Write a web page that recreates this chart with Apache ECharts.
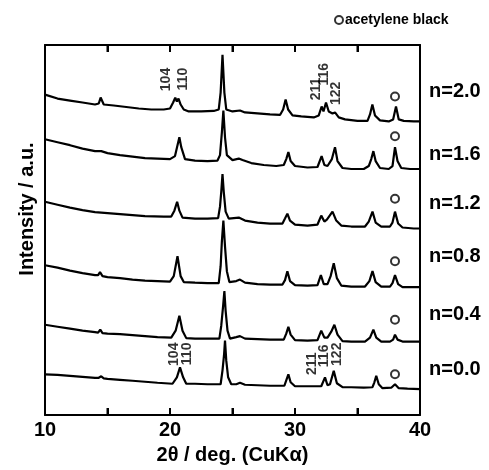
<!DOCTYPE html>
<html>
<head>
<meta charset="utf-8">
<script src="https://cdn.jsdelivr.net/npm/echarts@6/dist/echarts.min.js"></script>
<style>html,body{margin:0;padding:0;background:#fff;}#c{width:489px;height:470px;}</style>
</head>
<body>
<div id="c"></div>
<script>
// 2θ (deg) vs intensity (a.u., stacked offsets)
const sampleNames = ['n=2.0', 'n=1.6', 'n=1.2', 'n=0.8', 'n=0.4', 'n=0.0'];

const pattern20 = [[10,323],[11,319],[12,317],[13,315],[14,313],[14.3,314],[14.45,320],[14.7,313],[15.5,312],[16.5,310.5],[17.5,309],[18.5,308],[19.5,308],[20,309],[20.25,315],[20.42,320],[20.55,316],[20.68,319],[20.85,313],[21.1,308],[21.5,306],[22.5,306],[23.5,306.5],[23.9,308],[24.05,325],[24.2,363],[24.35,325],[24.5,308],[25,306],[25.6,307],[26,305],[27,304],[28,303],[28.8,302.5],[29.05,308],[29.25,318],[29.45,308],[29.8,302],[30.5,301],[31.5,300],[31.9,302],[32.13,311],[32.28,306],[32.48,315],[32.7,306],[33,304],[33.2,305],[33.5,300],[34,298],[35,296.5],[35.8,296.5],[36,303],[36.19,313],[36.4,302],[36.8,297],[37.5,296],[37.85,298],[38.08,311],[38.3,298],[38.7,296.5],[39.5,296],[40,296]];

const pattern16 = [[10,278],[11,275],[12,272],[13,268.5],[14,266],[14.5,266],[15,264],[16,262],[17,260.5],[18,259],[19,258.5],[20,258],[20.4,261],[20.6,272],[20.75,280],[20.9,270],[21.2,258],[22,256.5],[23,256],[23.8,256.5],[24,262],[24.15,285],[24.27,307],[24.4,280],[24.55,262],[25,257],[25.5,258.5],[25.8,257],[26.5,254],[27.5,252],[28.5,251],[29.1,252],[29.3,258],[29.47,265],[29.65,256],[30,251],[31,249.5],[31.8,250],[32.13,261],[32.35,252],[32.6,251],[32.95,258],[33.2,270],[33.4,256],[33.8,249],[34.5,248],[35.5,248],[35.9,251],[36.1,258],[36.27,266],[36.45,256],[36.8,249],[37.5,248],[37.8,251],[38,270],[38.2,256],[38.5,249],[39.2,248],[40,248]];

const pattern12 = [[10,215],[11,212],[12,209],[13,206.5],[14,204.5],[15,203.5],[16,202.5],[17,201.5],[18,200.5],[19.5,200],[20.1,200],[20.35,206],[20.57,215],[20.75,206],[21,199],[22,198],[23,198],[23.85,198.5],[24,210],[24.1,225],[24.2,243],[24.3,225],[24.45,205],[24.7,198],[25.5,199],[26,196],[27,194],[28,193],[29,193],[29.2,198],[29.39,203],[29.6,196],[30,192],[31,191],[31.8,192],[32.1,201],[32.35,195],[32.55,197],[33,205],[33.3,196],[33.7,191],[34.5,190],[35.6,190],[35.9,195],[36.2,205],[36.45,194],[36.9,190],[37.6,190],[37.8,194],[38,205],[38.25,193],[38.6,189],[39.5,188],[40,188]];

const pattern08 = [[10,151],[11,148.5],[12,145.5],[13,143],[14,141],[14.25,141],[14.4,144],[14.6,140],[15,139],[16,138],[17,136.5],[18,135.5],[19,135],[20,134.5],[20.3,140],[20.6,160],[20.85,140],[21.1,134],[22,133.5],[23,133],[23.9,133],[24.05,150],[24.15,175],[24.27,196],[24.4,170],[24.55,145],[24.75,134],[25.3,135],[25.6,136.5],[26,133.5],[27,132],[28,131.5],[29,131.5],[29.2,136],[29.39,145],[29.6,135],[30,131],[31,130.5],[31.8,131],[32.07,141],[32.3,132],[32.6,132],[32.85,140],[33.1,153],[33.35,138],[33.7,130.5],[34.5,129.5],[35.6,129.5],[35.95,135],[36.2,145],[36.45,134],[36.9,129.5],[37.6,129.5],[37.8,133],[38,141],[38.25,132],[38.6,129],[39.5,129],[40,129]];

const pattern04 = [[10,91],[11,89],[12,87],[13,85],[14,83.5],[14.25,83],[14.42,86],[14.6,82.5],[15,82],[16,81.5],[17,80.5],[18,79.5],[19,78.5],[20.1,78],[20.45,85],[20.75,100],[21,85],[21.3,77.5],[22,77],[23,77],[23.95,77],[24.1,90],[24.25,110],[24.35,125],[24.45,105],[24.6,85],[24.8,77],[25.3,78.5],[25.6,79.5],[26,77],[27,76.5],[28,76],[29.1,76],[29.3,82],[29.47,89],[29.65,81],[30,75.5],[31,75],[31.8,75.5],[32.1,85],[32.35,78],[32.6,78],[32.9,84],[33.15,91],[33.4,81],[33.8,74.5],[34.5,74],[35.6,74],[36,78],[36.27,86],[36.5,78],[36.9,74],[37.6,74],[37.85,76],[38,81],[38.2,76],[38.6,74],[39.5,74],[40,74]];

const pattern00 = [[10,41],[11,40.5],[12,39.5],[13,38.5],[14,37.5],[14.3,37.5],[14.5,39],[14.7,37],[15,36.5],[16,35.5],[17,34.5],[18,33.5],[19,32.5],[20.2,31.5],[20.55,38],[20.8,48],[21.05,38],[21.3,31.5],[22,31.5],[23,31],[24.05,31],[24.2,45],[24.32,60],[24.4,75],[24.5,55],[24.65,38],[24.9,31],[25.3,31],[25.6,32.5],[26,30.5],[27,30],[28,29.5],[29.15,29.5],[29.3,35],[29.47,41],[29.65,33],[30,29],[31,29],[32.1,29],[32.4,38],[32.6,30],[32.8,31],[33.1,44.5],[33.35,32],[33.8,28],[34.5,28],[35.5,27.5],[36.2,28],[36.35,33],[36.5,39.5],[36.7,31],[37,27],[37.7,27.5],[38,31],[38.3,27],[39,26.5],[40,26]];

// acetylene black markers (2θ, intensity)
const acetyleneBlack = [[38.0,321],[38.0,281],[38.0,218],[38.0,155],[38.0,96],[38.0,41]];

// hkl labels: [2θ, intensity at top of text, text]
const hklLabels = [
  [19.72,350,'104'],[21.08,350,'110'],[31.68,340,'211'],[32.32,355,'116'],[33.28,336,'122'],
  [20.3,73,'104'],[21.36,73,'110'],[31.4,63,'211'],[32.32,71,'116'],[33.4,73,'122']
];

const xTickLabels = [10, 20, 30, 40];
const xTickValues = [15, 20, 25, 30, 35];
const Y_MIN = 0, Y_MAX = 373;
const FONT = 'Liberation Sans, Arial, Helvetica, sans-serif';

const patterns = [pattern20, pattern16, pattern12, pattern08, pattern04, pattern00];
const labelY = [91, 154, 203, 256, 314, 369];

const chart = echarts.init(document.getElementById('c'));

const series = patterns.map((d, i) => ({
  name: sampleNames[i],
  type: 'line',
  data: d,
  symbol: 'none',
  silent: true,
  lineStyle: {color: '#000', width: 2.2}
}));

series.push({
  name: 'acetylene black',
  type: 'scatter',
  data: acetyleneBlack,
  symbol: 'emptyCircle',
  symbolSize: 8,
  itemStyle: {color: '#000', borderColor: '#000', borderWidth: 1.6},
  silent: true
});

series.push({
  name: 'hkl',
  type: 'scatter',
  data: hklLabels,
  symbolSize: 0,
  silent: true,
  label: {
    show: true,
    position: 'inside',
    rotate: 90,
    align: 'right',
    verticalAlign: 'middle',
    formatter: p => p.value[2],
    color: '#000',
    fontSize: 14,
    fontWeight: 'bold',
    fontFamily: FONT
  }
});

// inward ticks on the bottom and top frame, positioned through the x scale
series.push({
  name: 'ticks',
  type: 'custom',
  silent: true,
  clip: false,
  z: 5,
  data: xTickValues.map(v => [v, Y_MIN]),
  renderItem: (params, api) => {
    const b = api.coord([api.value(0), Y_MIN]);
    const t = api.coord([api.value(0), Y_MAX]);
    const st = {stroke: '#000', lineWidth: 2};
    return {type: 'group', children: [
      {type: 'line', shape: {x1: b[0], y1: b[1], x2: b[0], y2: b[1] - 7}, style: st},
      {type: 'line', shape: {x1: t[0], y1: t[1], x2: t[0], y2: t[1] + 7}, style: st}
    ]};
  }
});

const option = {
  animation: false,
  backgroundColor: '#fff',
  grid: {left: 45, right: 69, top: 45, bottom: 52},
  legend: {
    data: [{name: 'acetylene black', icon: 'emptyCircle'}],
    left: 329, top: 8,
    itemWidth: 8, itemHeight: 8, itemGap: 0,
    textStyle: {fontSize: 14, fontWeight: 'bold', fontFamily: FONT, color: '#000', padding: [0,0,0,-3]},
    selectedMode: false
  },
  xAxis: [{
    type: 'value', min: 10, max: 40, interval: 5,
    axisLine: {onZero: false, lineStyle: {color: '#000', width: 2}},
    axisTick: {show: true, interval: 0, inside: false, length: -7, lineStyle: {color: '#000', width: 2}},
    axisLabel: {color: '#000', fontSize: 20, fontWeight: 'bold', fontFamily: FONT, margin: 5,
      formatter: v => xTickLabels.includes(v) ? String(v) : ''},
    splitLine: {show: false},
    name: '2θ / deg. (CuKα)', nameLocation: 'middle', nameGap: 30,
    nameTextStyle: {color: '#000', fontSize: 20, fontWeight: 'bold', fontFamily: FONT}
  }, {
    type: 'value', min: 10, max: 40, interval: 5, position: 'top',
    axisLine: {onZero: false, lineStyle: {color: '#000', width: 2}},
    axisTick: {show: true, interval: 0, inside: true, length: 7, lineStyle: {color: '#000', width: 2}},
    axisLabel: {show: true, color: 'rgba(0,0,0,0)', formatter: () => ''},
    splitLine: {show: false}
  }],
  yAxis: [{
    type: 'value', min: Y_MIN, max: Y_MAX,
    axisLine: {show: true, lineStyle: {color: '#000', width: 2}},
    axisTick: {show: false}, axisLabel: {show: false}, splitLine: {show: false}
  }, {
    type: 'value', min: Y_MIN, max: Y_MAX, position: 'right',
    axisLine: {show: true, lineStyle: {color: '#000', width: 2}},
    axisTick: {show: false}, axisLabel: {show: false}, splitLine: {show: false}
  }],
  graphic: [
    {
      type: 'text', x: 27, y: 209, rotation: Math.PI / 2,
      style: {text: 'Intensity / a.u.', fill: '#000', font: 'bold 20px ' + FONT, align: 'center', verticalAlign: 'middle'}
    },
    ...sampleNames.map((n, i) => ({
      type: 'text', x: 429, y: labelY[i],
      style: {text: n, fill: '#000', font: 'bold 20px ' + FONT, align: 'left', verticalAlign: 'middle'}
    }))
  ],
  series
};

chart.setOption(option);
</script>
</body>
</html>
